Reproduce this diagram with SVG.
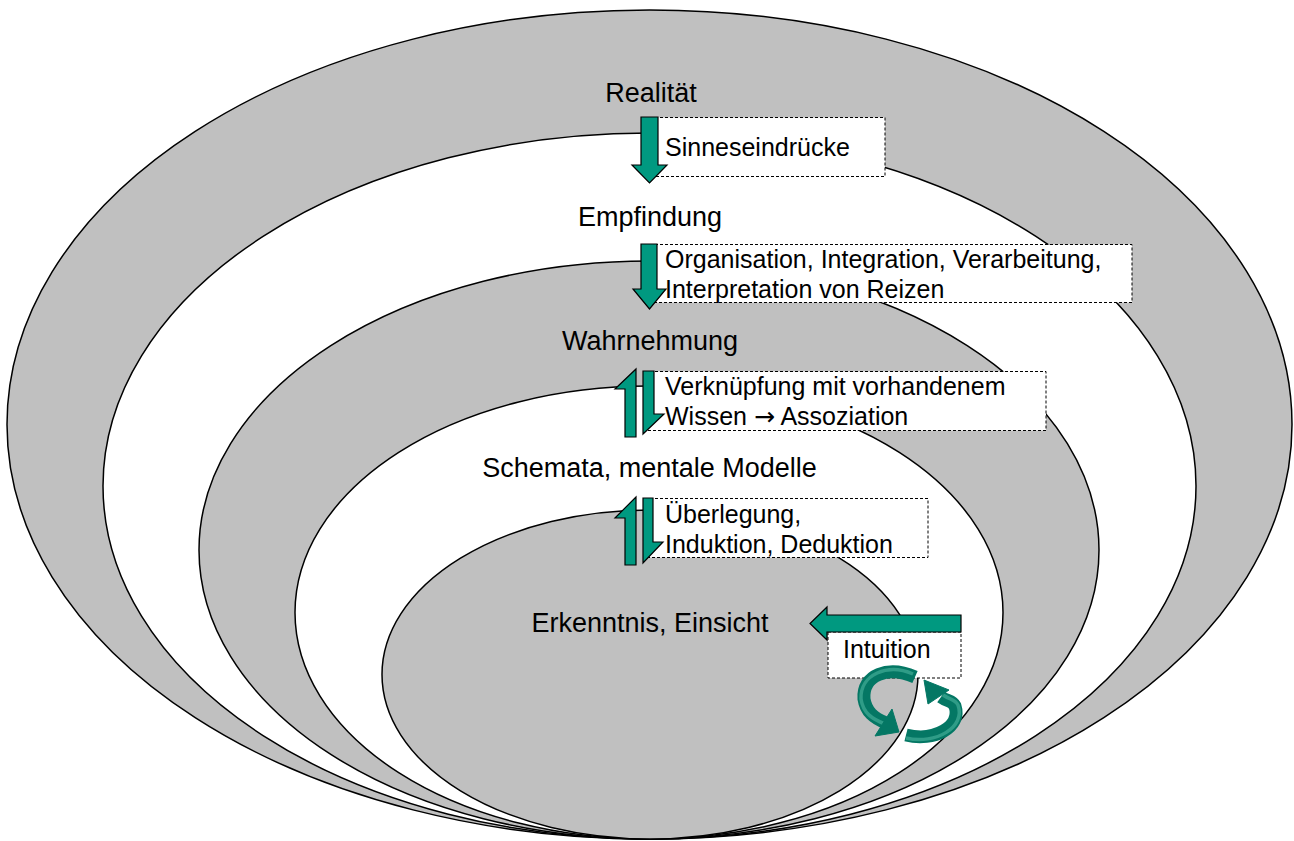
<svg xmlns="http://www.w3.org/2000/svg" width="1294" height="841" viewBox="0 0 1294 841">
  <style>
    .ring { stroke: #000; stroke-width: 1.5; }
    .grey { fill: #c0c0c0; }
    .white { fill: #ffffff; }
    .label { font-family: "Liberation Sans", Arial, sans-serif; font-size: 27px; fill: #000; text-anchor: middle; }
    .btext { font-family: "Liberation Sans", Arial, sans-serif; font-size: 25px; fill: #000; }
    .sym { font-family: "DejaVu Sans", sans-serif; }
    .box { fill: #ffffff; stroke: #000; stroke-width: 1; stroke-dasharray: 3 2; }
    .arrow { fill: #009980; stroke: #000; stroke-width: 1.2; stroke-linejoin: miter; }
    .loop { fill: none; stroke: #047764; stroke-width: 13; stroke-linecap: butt; }
    .loophi { fill: none; stroke: #2f9c87; stroke-width: 3.5; stroke-linecap: butt; }
    .loophead { fill: #047764; stroke: #047764; stroke-width: 1; stroke-linejoin: round; }
  </style>

  <!-- nested levels, outermost first -->
  <g id="realitaet">
    <ellipse class="ring grey" cx="649.5" cy="424.5" rx="642.5" ry="414.5"/>
    <text class="label" x="651" y="102">Realität</text>
  </g>
  <g id="empfindung">
    <ellipse class="ring white" cx="649.5" cy="486" rx="546.5" ry="353"/>
    <text class="label" x="650" y="226">Empfindung</text>
  </g>
  <g id="wahrnehmung">
    <ellipse class="ring grey" cx="649" cy="550" rx="450" ry="289"/>
    <text class="label" x="650" y="350">Wahrnehmung</text>
  </g>
  <g id="schemata">
    <ellipse class="ring white" cx="649" cy="612.5" rx="354" ry="226.5"/>
    <text class="label" x="649.5" y="477">Schemata, mentale Modelle</text>
  </g>
  <g id="erkenntnis">
    <ellipse class="ring grey" cx="650" cy="674.5" rx="268" ry="164.5"/>
    <text class="label" x="650" y="632">Erkenntnis, Einsicht</text>
  </g>

  <!-- transition labels -->
  <g id="label-sinneseindruecke">
    <rect class="box" x="650" y="117.5" width="235" height="59"/>
    <text class="btext" x="665" y="156">Sinneseindrücke</text>
  </g>
  <g id="label-organisation">
    <rect class="box" x="650" y="244.5" width="482" height="58"/>
    <text class="btext" x="665" y="268">Organisation, Integration, Verarbeitung,</text>
    <text class="btext" x="665" y="298">Interpretation von Reizen</text>
  </g>
  <g id="label-verknuepfung">
    <rect class="box" x="645" y="371.5" width="401" height="59"/>
    <text class="btext" x="665" y="395">Verknüpfung mit vorhandenem</text>
    <text class="btext" x="665" y="425">Wissen <tspan class="sym">→</tspan> Assoziation</text>
  </g>
  <g id="label-ueberlegung">
    <rect class="box" x="645" y="498.5" width="283" height="59"/>
    <text class="btext" x="665" y="523">Überlegung,</text>
    <text class="btext" x="665" y="553">Induktion, Deduktion</text>
  </g>
  <g id="label-intuition">
    <rect class="box" x="828" y="632" width="133" height="46"/>
    <text class="btext" x="843" y="658">Intuition</text>
  </g>

  <!-- connectors -->
  <g id="connectors">
    <polygon class="arrow" points="641,117 658,117 658,165 667,165 649.5,183 632,165 641,165"/>
    <polygon class="arrow" points="641,244 657,244 657,289 666,289 649.5,309 633,289 641,289"/>

    <polygon class="arrow" points="643,371 654,371 654,414 664,414 643,434"/>
    <polygon class="arrow" points="636,369 636,437 625,437 625,389 615,389"/>

    <polygon class="arrow" points="643,498 653,498 653,542 663,542 643,563"/>
    <polygon class="arrow" points="636,497 636,565 625,565 625,518 615,518"/>

    <polygon class="arrow" points="961,615 961,632 827,632 827,640 810,623.5 827,607 827,615"/>

    <!-- circling pair below the intuition label -->
    <path class="loop" d="M 915 677 C 888 665 862 675 864 699 C 866 712 874 718 886 723"/>
    <path class="loophi" d="M 913 674 C 888 663 860 674 861 699 C 863 713 872 719 885 724"/>
    <polygon class="loophead" points="875,736 892,709 899,732"/>
    <path class="loop" d="M 906 735 C 934 742 962 727 955 706 C 952 700 948 702 941 697"/>
    <path class="loophi" d="M 906 738 C 936 745 966 727 958 705 C 955 699 950 700 943 695"/>
    <polygon class="loophead" points="928,704 949,690 924,680"/>
  </g>
</svg>
